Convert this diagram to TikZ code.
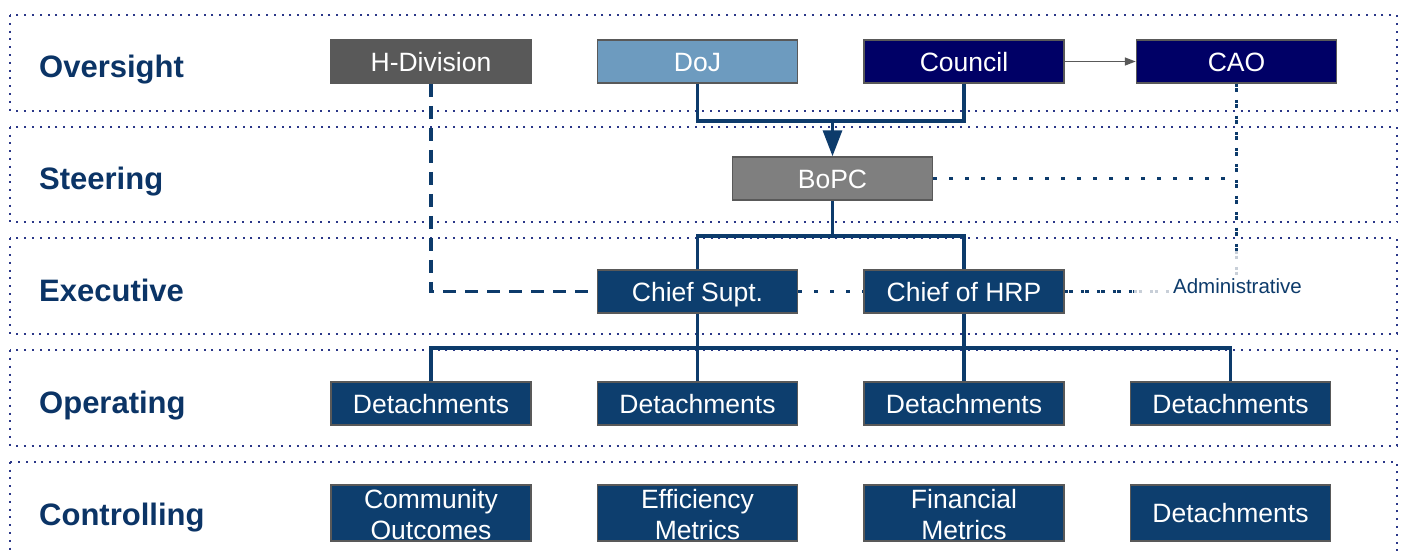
\documentclass[tikz,border=0pt]{standalone}
\usepackage{fontspec}
\setmainfont{Liberation Sans}
\usetikzlibrary{arrows.meta}
\definecolor{navyline}{HTML}{0D3B6B}
\definecolor{boxblue}{HTML}{0D3E6E}
\definecolor{councilnavy}{HTML}{000066}
\definecolor{hdivgray}{HTML}{595959}
\definecolor{dojblue}{HTML}{6D9BBF}
\definecolor{bopcgray}{HTML}{7F7F7F}
\definecolor{labelnavy}{HTML}{0B3466}
\definecolor{banddot}{HTML}{2B3788}
\definecolor{fadegray}{HTML}{C8CFD8}
\begin{document}
\begin{tikzpicture}[x=1pt,y=-1pt,
  band/.style={draw=banddot, line width=2pt, dash pattern=on 2pt off 5.8pt},
  lvl/.style={anchor=base west, text=labelnavy, font=\fontsize{31}{36}\selectfont\bfseries, inner sep=0},
  box/.style={draw=hdivgray, line width=1.5pt, minimum width=200pt, minimum height=43pt, inner sep=0,
    text=white, font=\fontsize{26.5}{31}\selectfont, text height=19pt, text depth=0pt},
  bluebox/.style={box, fill=boxblue},
  tallbox/.style={draw=hdivgray, line width=1.5pt, fill=boxblue, minimum width=200pt, minimum height=56pt, inner sep=0},
  boxtext/.style={text=white, font=\fontsize{26.5}{31}\selectfont, align=center, inner sep=0},
  conn/.style={draw=navyline, line width=3.3pt},
  dashconn/.style={draw=navyline, line width=3.3pt, dash pattern=on 13pt off 9pt},
  dotconn/.style={draw=navyline, line width=3.8pt, dash pattern=on 3.8pt off 12.2pt},
  densedot/.style={draw=navyline, line width=3.8pt, dash pattern=on 3.3pt off 1.4pt on 3.3pt off 8pt},
  fadedot/.style={draw=fadegray, line width=3.8pt, dash pattern=on 3.3pt off 1.4pt on 3.3pt off 8pt}
]
\useasboundingbox (0,0) rectangle (1401,550);
\fill[white] (0,0) rectangle (1401,550);

% bands
\draw[band] (10.3,15) rectangle (1396.7,110.7);
\draw[band] (10.3,126.7) rectangle (1396.7,222.4);
\draw[band] (10.3,238.4) rectangle (1396.7,334.1);
\draw[band] (10.3,350.1) rectangle (1396.7,445.8);
\draw[band] (10.3,461.8) rectangle (1396.7,570);

% level labels
\node[lvl] (lo) at (39,77) {Oversight};
\node[lvl] (ls) at (39,189) {Steering};
\node[lvl] (le) at (39,301) {Executive};
\node[lvl] (lp) at (39,413) {Operating};
\node[lvl] (lc) at (39,525) {Controlling};

% oversight
\node[box, fill=hdivgray] (hdiv) at (431,61.5) {H-Division};
\node[box, fill=dojblue] (doj) at (697.5,61.5) {DoJ};
\node[box, fill=councilnavy] (council) at (964,61.5) {Council};
\node[box, fill=councilnavy] (cao) at (1236.5,61.5) {CAO};

% steering
\node[box, fill=bopcgray] (bopc) at (832.5,178.5) {BoPC};

% executive
\node[bluebox] (chiefs) at (697.5,291.5) {Chief Supt.};
\node[bluebox] (chiefh) at (964,291.5) {Chief of HRP};

% operating
\node[bluebox] (det1) at (431,403.5) {Detachments};
\node[bluebox] (det2) at (697.5,403.5) {Detachments};
\node[bluebox] (det3) at (964,403.5) {Detachments};
\node[bluebox] (det4) at (1230.5,403.5) {Detachments};

% controlling
\node[tallbox] (c1) at (431,513) {};
\node[tallbox] (c2) at (697.5,513) {};
\node[tallbox] (c3) at (964,513) {};
\node[tallbox] (c4) at (1230.5,513) {};
\node[boxtext] (c1t) at (431,514.5) {Community\\Outcomes};
\node[boxtext] (c2t) at (697.5,514.5) {Efficiency\\Metrics};
\node[boxtext] (c3t) at (964,514.5) {Financial\\Metrics};
\node[boxtext, text height=19pt, text depth=0pt] (c4t) at (c4) {Detachments};

% connectors
\draw[draw=hdivgray, line width=1.5pt, -{Triangle[length=11pt,width=8pt]}] (council.east) -- (cao.west);

\coordinate (jm) at (832.5,121);
\draw[conn] (doj.south) |- (jm) -| (council.south);
\draw[conn, -{Triangle[length=26pt,width=19pt]}] (jm) -- (bopc.north);

\coordinate (bus1) at (832.5,236);
\draw[conn] (bopc.south) -- (bus1);
\draw[conn] (chiefs.north) |- (bus1) -| (chiefh.north);

\coordinate (bus2) at (697.5,348);
\draw[conn] (chiefs.south) -- (chiefs.south |- bus2);
\draw[conn] (chiefh.south) -- (chiefh.south |- bus2);
\draw[conn] (det1.north) |- (det4.north |- bus2) -- (det4.north);
\draw[conn] (det2.north) -- (det2.north |- bus2);
\draw[conn] (det3.north) -- (det3.north |- bus2);

\draw[dashconn] (hdiv.south) |- (chiefs.west);

\coordinate (caomid) at (1236.5,251);
\coordinate (caoend) at (1236.5,279);
\draw[densedot] (cao.south) -- (caomid);
\draw[fadedot] (caomid) -- (caoend);
\draw[dotconn] (bopc.east) -- (bopc.east -| cao.south);
\draw[dotconn] (chiefs.east) -- (chiefh.west);
\coordinate (hrpmid) at (1134,291.5);
\coordinate (hrpend) at (1170,291.5);
\draw[densedot] (chiefh.east) -- (hrpmid);
\draw[fadedot] (hrpmid) -- (hrpend);

\node[text=navyline, font=\fontsize{20.5}{24}\selectfont, inner sep=0] (admin) at (1237.5,286) {Administrative};
\end{tikzpicture}
\end{document}
